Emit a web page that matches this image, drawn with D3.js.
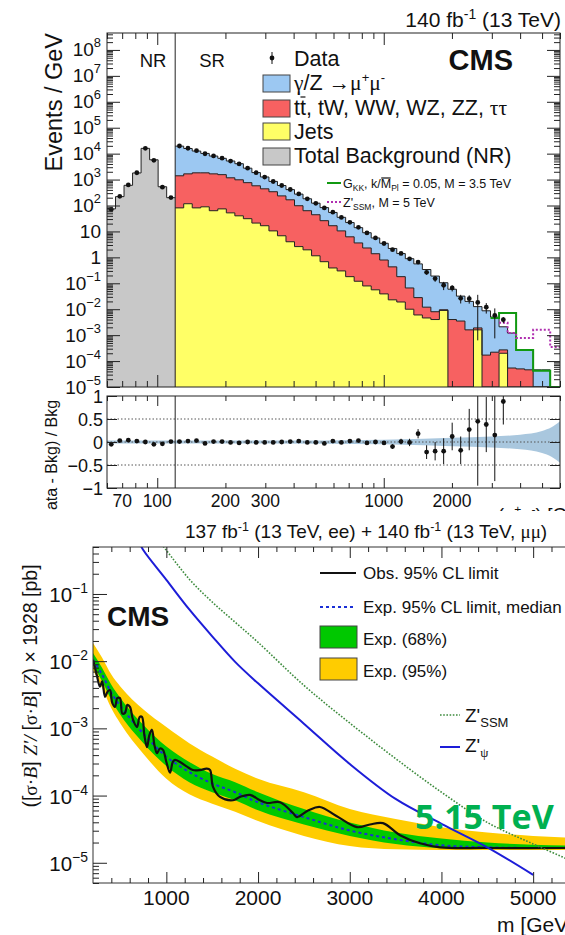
<!DOCTYPE html>
<html>
<head>
<meta charset="utf-8">
<style>
  body { margin: 0; background: #fff; }
  text { font-family: "Liberation Sans", Arial, Helvetica, sans-serif; fill: #111; }
</style>
</head>
<body>
<script src="https://d3js.org/d3.v7.min.js"></script>
<script>
// ---------- top figure: dimuon mass spectrum (events / GeV) ----------
// NR region, 8 log bins 60-120 GeV
const nrBkg   = [74, 220, 600, 1800, 16000, 5800, 530, 200];
const nrRatio = [-0.05, 0.03, 0.04, 0.02, 0.0, -0.05, -0.04, 0.01];
const nrRatioErr = [0.01, 0.01, 0.01, 0.01, 0.01, 0.01, 0.01, 0.01];

// SR region, bins 8..52 (stack tops)
const srTotal = [19500, 15800, 12600, 10200, 8100, 6600, 5200, 4100, 2750, 1860, 1260, 850, 590, 410, 275, 182, 123, 83, 54, 35,
  22, 14, 8.9, 5.6, 3.5, 2.2, 1.4, 0.89, 0.56, 0.34, 0.19, 0.105, 0.059, 0.032, 0.020, 0.0126, 0.0087, 0.0050, 0.0021, 0.0012,
  2.7e-4, 2.7e-4, 4.6e-5, 4.6e-5, 0];
const srNonDY = [1400, 1660, 1820, 1820, 1660, 1550, 1170, 980, 760, 575, 440, 340, 235, 166, 98, 63, 44, 26, 16.6, 10.5,
  6.2, 3.6, 2.3, 1.38, 0.79, 0.43, 0.18, 0.066, 0.028, 0.012, 0.008, 0.0095, 0.004, 0.0035, 0.0016, 0.0019, 1.7e-4, 2.2e-4, 2.7e-4, 5.4e-5,
  5e-5, 4.6e-5, 0, 0, 0];
const srJets = [81, 117, 81, 89, 63, 74, 52, 40, 31, 21, 16.6, 10.5, 6.8, 4.0, 2.6, 1.95, 1.15, 0.68, 0.39, 0.30,
  0.18, 0.12, 0.079, 0.056, 0.039, 0.023, 0.019, 0.010, 0.006, 0.0046, 0.004, 0.009, 0, 0, 0, 0.0016, 0, 0, 2e-4, 0,
  0, 0, 0, 0, 0];
// data / bkg - 1, bins 8..46
const srRatio = [0.01, 0.02, 0.03, -0.03, 0.01, 0.01, -0.01, -0.02, 0.0, -0.01, -0.01, -0.01, 0.0, 0.01, 0.02, -0.01, -0.01, -0.03, 0.02, -0.01,
  0.02, 0.03, -0.02, 0.0, -0.02, -0.1, 0.01, -0.01, 0.18, -0.22, -0.2, -0.2, 0.12, -0.18, 0.27, 0.45, 0.38, 0.15, 0.88];
const srRatioErr = [0.01, 0.01, 0.01, 0.01, 0.01, 0.01, 0.01, 0.01, 0.01, 0.01, 0.01, 0.01, 0.01, 0.01, 0.01, 0.01, 0.01, 0.01, 0.01, 0.01,
  0.01, 0.01, 0.02, 0.03, 0.04, 0.05, 0.06, 0.08, 0.1, 0.15, 0.2, 0.28, 0.3, 0.3, 0.45, 1.4, 0.6, 1.0, 0.5];
// signals, signal + bkg
const gkkSig  = [0.0046, 0.0072, 0.0072, 2.7e-4, 2.7e-4, 4.2e-5, 4.2e-5, 0];   // bins 45..52
const zssmSig = [0.003, 0.0012, 7.8e-4, 7.8e-4, 0.0016, 0.0016, 3.5e-4];      // bins 46..52
// ratio-panel bkg uncertainty
const bandMass = [60, 300, 1000, 1500, 2000, 3000, 4000, 5000, 5500, 6000];
const bandHalf = [0.03, 0.03, 0.05, 0.07, 0.09, 0.12, 0.16, 0.24, 0.32, 0.45];
const massTicks = [70, 100, 200, 300, 1000, 2000];
const ratioTicks = [-1, -0.5, 0, 0.5, 1];

// ---------- bottom figure: limits (log10 of pb) ----------
const limMass = [200, 300, 400, 500, 750, 1000, 1250, 1500, 1750, 2000, 2500, 3000, 3500, 4000, 4500, 5000, 5500];
const exp95Hi = [-1.73, -1.95, -2.2, -2.38, -2.72, -2.98, -3.22, -3.42, -3.6, -3.75, -3.95, -4.2, -4.35, -4.47, -4.55, -4.6, -4.63];
const exp68Hi = [-1.88, -2.1, -2.35, -2.55, -2.95, -3.27, -3.5, -3.68, -3.8, -3.95, -4.2, -4.4, -4.55, -4.64, -4.7, -4.73, -4.75];
const expMed  = [-1.98, -2.2, -2.47, -2.67, -3.08, -3.42, -3.65, -3.82, -3.95, -4.1, -4.32, -4.52, -4.65, -4.74, -4.77, -4.78, -4.78];
const exp68Lo = [-2.06, -2.3, -2.58, -2.8, -3.22, -3.56, -3.8, -3.95, -4.07, -4.22, -4.43, -4.6, -4.72, -4.78, -4.79, -4.79, -4.79];
const exp95Lo = [-2.13, -2.4, -2.7, -2.93, -3.38, -3.75, -3.98, -4.12, -4.24, -4.38, -4.6, -4.75, -4.8, -4.81, -4.81, -4.81, -4.81];
const obsMass = [200, 240, 276, 300, 331, 360, 385, 410, 440, 465, 494, 520, 549, 575, 603, 636, 680, 710, 734, 760,
  789, 815, 843, 870, 898, 930, 963, 1000, 1040, 1070, 1094, 1149, 1225, 1290, 1367, 1440, 1476, 1509, 1585, 1727,
  1803, 1912, 2021, 2098, 2239, 2381, 2425, 2550, 2675, 2850, 3079, 3220, 3362, 3548, 3766, 3985, 4500, 5500];
const obsLim = [-1.98, -2.2, -2.38, -2.3, -2.53, -2.45, -2.43, -2.62, -2.68, -2.55, -2.55, -2.78, -2.77, -2.65, -2.68, -2.87, -2.98, -2.83, -2.83, -3.1,
  -3.28, -3.1, -3.02, -3.25, -3.37, -3.3, -3.32, -3.5, -3.66, -3.5, -3.47, -3.5, -3.57, -3.62, -3.62, -3.6, -3.62, -3.87, -4.02, -4.07,
  -4.02, -3.99, -4.07, -4.11, -4.1, -4.26, -4.32, -4.22, -4.17, -4.3, -4.47, -4.43, -4.41, -4.59, -4.71, -4.77, -4.78, -4.78];
const ssmMass = [900, 1000, 1250, 1500, 1750, 2000, 2500, 3000, 3500, 4000, 4500, 5000, 5500];
const ssmXs   = [-0.18, -0.35, -0.78, -1.12, -1.42, -1.72, -2.36, -2.92, -3.45, -3.95, -4.4, -4.72, -5.02];
const psiMass = [700, 750, 1000, 1250, 1500, 1750, 2000, 2500, 3000, 3500, 4000, 4500, 5000];
const psiXs   = [-0.22, -0.35, -0.79, -1.23, -1.63, -2.01, -2.33, -2.93, -3.53, -4.05, -4.42, -4.77, -5.18];
const limXTicks = [1000, 2000, 3000, 4000, 5000];

const serif = '"Liberation Serif", "Times New Roman", serif';
const svg = d3.select('body').append('svg').attr('width', 565).attr('height', 935);

// generic inward tick helper
function ticks(axisFn, scale, vals, len, tx, ty) {
  svg.append('g').attr('transform', `translate(${tx},${ty})`)
    .call(axisFn(scale).tickValues(vals).tickSize(-len).tickFormat(''))
    .call(a => a.select('.domain').remove())
    .selectAll('line').attr('stroke', '#222').attr('stroke-width', 1);
}
function logVals(lo, hi, major) {
  const out = [];
  for (let e = Math.floor(Math.log10(lo)); e <= Math.ceil(Math.log10(hi)); e++) {
    for (let k = 1; k < 10; k++) {
      const v = k * Math.pow(10, e);
      if (v >= lo * 0.999 && v <= hi * 1.001 && (major ? k === 1 : k !== 1)) out.push(v);
    }
  }
  return out;
}
function powLabel(sel, e) {
  if (e === 0) { sel.text('1'); return; }
  if (e === 1) { sel.text('10'); return; }
  sel.append('tspan').text('10');
  sel.append('tspan').attr('dy', -9).attr('font-size', '0.68em').text(e < 0 ? '\u2212' + (-e) : e);
}
// bar over one character of a text element
function overbar(t, idx) {
  const b = t.node().getExtentOfChar(idx);
  svg.append('line').attr('x1', b.x + 0.5).attr('x2', b.x + b.width - 0.5)
    .attr('y1', b.y + 1).attr('y2', b.y + 1).attr('stroke', '#111').attr('stroke-width', 1.2);
}

// ================= TOP FIGURE =================
const X0 = 107, X1 = 560, YT = 33, YB = 387, RT = 396, RB = 488;
const x = d3.scaleLog().domain([60, 6000]).range([X0, X1]);
const y = d3.scaleLog().domain([1e-5, 4.5e8]).range([YB, YT]);
const yr = d3.scaleLinear().domain([-1, 1]).range([RB, RT]);
const edges = d3.range(54).map(i => 60 * Math.pow(2, i / 8));
const center = i => Math.sqrt(edges[i] * edges[i + 1]);
const ly = v => y(Math.max(v, 1e-5));

function stepPts(vals, first, lastEdge) {
  const pts = vals.map((v, i) => [edges[first + i], v]);
  pts.push([lastEdge || edges[first + vals.length], vals[vals.length - 1]]);
  return pts;
}
const stepArea = d3.area().curve(d3.curveStepAfter).x(d => x(d[0])).y0(YB).y1(d => ly(d[1]));
const stepLine = d3.line().curve(d3.curveStepAfter).x(d => x(d[0])).y(d => ly(d[1]));

svg.append('defs').append('clipPath').attr('id', 'topClip')
  .append('rect').attr('x', X0).attr('y', YT).attr('width', X1 - X0).attr('height', YB - YT);
svg.select('defs').append('clipPath').attr('id', 'ratioClip')
  .append('rect').attr('x', X0).attr('y', RT).attr('width', X1 - X0).attr('height', RB - RT);

const gh = svg.append('g').attr('clip-path', 'url(#topClip)');
const hists = [
  {vals: nrBkg, first: 0, fill: '#c8c8c8', end: null},
  {vals: srTotal, first: 8, fill: '#9cc8f2', end: 6000},
  {vals: srNonDY, first: 8, fill: '#f76161', end: 6000},
  {vals: srJets, first: 8, fill: '#ffff66', end: 6000}
];
hists.forEach(h => {
  const pts = stepPts(h.vals, h.first, h.end);
  gh.append('path').attr('d', stepArea(pts)).attr('fill', h.fill);
});
hists.forEach(h => {
  const pts = stepPts(h.vals, h.first, h.end);
  gh.append('path').attr('d', stepLine(pts)).attr('fill', 'none').attr('stroke', '#222').attr('stroke-width', 1);
});
gh.append('path').attr('d', stepLine(stepPts(gkkSig, 45, 6000)))
  .attr('fill', 'none').attr('stroke', '#119911').attr('stroke-width', 2);
gh.append('path').attr('d', stepLine(stepPts(zssmSig, 46, 6000)))
  .attr('fill', 'none').attr('stroke', '#b02fb0').attr('stroke-width', 2).attr('stroke-dasharray', '2,2');

// data points
const pts = [];
nrBkg.forEach((b, i) => pts.push({m: center(i), b, r: nrRatio[i], e: nrRatioErr[i]}));
srRatio.forEach((r, k) => pts.push({m: center(8 + k), b: srTotal[k], r, e: srRatioErr[k]}));
pts.forEach(p => {
  const v = p.b * (1 + p.r), err = p.e * p.b;
  gh.append('line').attr('x1', x(p.m)).attr('x2', x(p.m))
    .attr('y1', ly(v - err)).attr('y2', ly(v + err)).attr('stroke', '#111').attr('stroke-width', 1);
  gh.append('circle').attr('cx', x(p.m)).attr('cy', ly(v)).attr('r', 2.4).attr('fill', '#111');
});
svg.append('line').attr('x1', x(120)).attr('x2', x(120)).attr('y1', YT).attr('y2', YB).attr('stroke', '#222');
svg.append('rect').attr('x', X0).attr('y', YT).attr('width', X1 - X0).attr('height', YB - YT)
  .attr('fill', 'none').attr('stroke', '#222');

// top axes ticks
const xMaj = [100, 1000], xMin = logVals(60, 6000, false);
ticks(d3.axisBottom, x, xMaj, 12, 0, YB); ticks(d3.axisBottom, x, xMin, 6, 0, YB);
ticks(d3.axisTop, x, xMaj, 12, 0, YT); ticks(d3.axisTop, x, xMin, 6, 0, YT);
const yMaj = logVals(1e-5, 4.5e8, true), yMin = logVals(1e-5, 4.5e8, false);
ticks(d3.axisLeft, y, yMaj, 13, X0, 0); ticks(d3.axisLeft, y, yMin, 6, X0, 0);
ticks(d3.axisRight, y, yMaj, 13, X1, 0); ticks(d3.axisRight, y, yMin, 6, X1, 0);
yMaj.forEach(v => {
  const e = Math.round(Math.log10(v));
  const t = svg.append('text').attr('x', 101).attr('y', y(v) + 6.5).attr('text-anchor', 'end').attr('font-size', 19);
  powLabel(t, e);
});
svg.append('text').attr('transform', `translate(62,${YT}) rotate(-90)`).attr('text-anchor', 'end')
  .attr('font-size', 23.5).text('Events / GeV');
svg.append('text').attr('x', 561).attr('y', 27).attr('text-anchor', 'end').attr('font-size', 21)
  .call(t => { t.append('tspan').text('140 fb'); t.append('tspan').attr('dy', -8).attr('font-size', 14).text('-1');
    t.append('tspan').attr('dy', 8).text(' (13 TeV)'); });
svg.append('text').attr('x', 153).attr('y', 67).attr('text-anchor', 'middle').attr('font-size', 18.5).text('NR');
svg.append('text').attr('x', 212).attr('y', 67).attr('text-anchor', 'middle').attr('font-size', 18.5).text('SR');
svg.append('text').attr('x', 513).attr('y', 70).attr('text-anchor', 'end').attr('font-size', 29)
  .attr('font-weight', 'bold').text('CMS');

// legend
svg.append('line').attr('x1', 272).attr('x2', 272).attr('y1', 52).attr('y2', 64).attr('stroke', '#111');
svg.append('circle').attr('cx', 272).attr('cy', 58).attr('r', 2.4).attr('fill', '#111');
svg.append('text').attr('x', 294).attr('y', 66).attr('font-size', 21.5).text('Data');
const legRows = [
  {fill: '#9cc8f2', y: 75}, {fill: '#f76161', y: 100}, {fill: '#ffff66', y: 123}, {fill: '#c8c8c8', y: 148}
];
legRows.forEach(r => svg.append('rect').attr('x', 263).attr('y', r.y).attr('width', 27).attr('height', 17)
  .attr('fill', r.fill).attr('stroke', '#444').attr('stroke-width', 1));
svg.append('text').attr('x', 294).attr('y', 90).attr('font-size', 21.5).call(t => {
  t.append('tspan').attr('font-family', serif).text('\u03b3');
  t.append('tspan').text('/Z ');
  t.append('tspan').attr('font-family', serif).text('\u2192\u03bc');
  t.append('tspan').attr('dy', -8).attr('font-size', 13).text('+');
  t.append('tspan').attr('dy', 8).attr('font-family', serif).text('\u03bc');
  t.append('tspan').attr('dy', -8).attr('font-size', 13).text('-');
});
const ttText = svg.append('text').attr('x', 294).attr('y', 115).attr('font-size', 21.5).call(t => {
  t.append('tspan').text('tt, tW, WW, WZ, ZZ, ');
  t.append('tspan').attr('font-family', serif).text('\u03c4\u03c4');
});
overbar(ttText, 1);
svg.append('text').attr('x', 294).attr('y', 139).attr('font-size', 21.5).text('Jets');
svg.append('text').attr('x', 294).attr('y', 163).attr('font-size', 21.5).text('Total Background (NR)');
svg.append('line').attr('x1', 327).attr('x2', 341).attr('y1', 183).attr('y2', 183).attr('stroke', '#119911').attr('stroke-width', 2);
const gkkText = svg.append('text').attr('x', 343).attr('y', 188).attr('font-size', 12.5).call(t => {
  t.append('tspan').text('G');
  t.append('tspan').attr('dy', 3).attr('font-size', 8.5).text('KK');
  t.append('tspan').attr('dy', -3).text(', k/M');
  t.append('tspan').attr('dy', 3).attr('font-size', 8.5).text('Pl');
  t.append('tspan').attr('dy', -3).text(' = 0.05, M = 3.5 TeV');
});
overbar(gkkText, 7);
svg.append('line').attr('x1', 327).attr('x2', 341).attr('y1', 202).attr('y2', 202).attr('stroke', '#b02fb0')
  .attr('stroke-width', 2).attr('stroke-dasharray', '2,2');
svg.append('text').attr('x', 343).attr('y', 207).attr('font-size', 12.5).call(t => {
  t.append('tspan').text("Z'");
  t.append('tspan').attr('dy', 3).attr('font-size', 8.5).text('SSM');
  t.append('tspan').attr('dy', -3).text(', M = 5 TeV');
});

// ratio panel
const band = d3.area().curve(d3.curveMonotoneX).x((d, i) => x(bandMass[i]))
  .y0((d, i) => yr(-bandHalf[i])).y1((d, i) => yr(bandHalf[i]));
const gr = svg.append('g').attr('clip-path', 'url(#ratioClip)');
gr.append('path').attr('d', band(bandMass)).attr('fill', '#a9c7de');
[-0.5, 0, 0.5].forEach(v => gr.append('line').attr('x1', X0).attr('x2', X1).attr('y1', yr(v)).attr('y2', yr(v))
  .attr('stroke', '#555').attr('stroke-width', 1).attr('stroke-dasharray', '1.5,2'));
pts.forEach(p => {
  gr.append('line').attr('x1', x(p.m)).attr('x2', x(p.m)).attr('y1', yr(p.r - p.e)).attr('y2', yr(p.r + p.e))
    .attr('stroke', '#111').attr('stroke-width', 1);
  gr.append('circle').attr('cx', x(p.m)).attr('cy', yr(p.r)).attr('r', 2.4).attr('fill', '#111');
});
svg.append('line').attr('x1', x(120)).attr('x2', x(120)).attr('y1', RT).attr('y2', RB).attr('stroke', '#222');
svg.append('rect').attr('x', X0).attr('y', RT).attr('width', X1 - X0).attr('height', RB - RT)
  .attr('fill', 'none').attr('stroke', '#222');
ticks(d3.axisBottom, x, xMaj, 10, 0, RB); ticks(d3.axisBottom, x, xMin, 5, 0, RB);
ticks(d3.axisTop, x, xMaj, 10, 0, RT); ticks(d3.axisTop, x, xMin, 5, 0, RT);
ticks(d3.axisLeft, yr, ratioTicks, 10, X0, 0); ticks(d3.axisRight, yr, ratioTicks, 10, X1, 0);
ratioTicks.forEach(v => svg.append('text').attr('x', 103).attr('y', yr(v) + 6.5).attr('text-anchor', 'end')
  .attr('font-size', 18).text(v < 0 ? '\u2212' + (-v) : v));
massTicks.forEach(v => svg.append('text').attr('x', x(v)).attr('y', 507).attr('text-anchor', 'middle')
  .attr('font-size', 17.5).text(v));
svg.append('text').attr('transform', 'translate(57,527) rotate(-90)').attr('text-anchor', 'start')
  .attr('font-size', 16).text('(Data - Bkg) / Bkg');
svg.append('text').attr('x', 482).attr('y', 521).attr('font-size', 19).call(t => {
  t.append('tspan').text('m(');
  t.append('tspan').attr('font-family', serif).text('\u03bc');
  t.append('tspan').attr('dy', -7).attr('font-size', 12).text('+');
  t.append('tspan').attr('dy', 7).attr('font-family', serif).text('\u03bc');
  t.append('tspan').attr('dy', -7).attr('font-size', 12).text('-');
  t.append('tspan').attr('dy', 7).text(') [GeV]');
});

// white cut between the two figures
svg.append('rect').attr('x', 0).attr('y', 511).attr('width', 565).attr('height', 424).attr('fill', '#fff');

// ================= BOTTOM FIGURE =================
const BX0 = 93, BX1 = 579, BT = 547, BB = 883;
const xb = d3.scaleLinear().domain([200, 5500]).range([BX0, BX1]);
const yb = d3.scaleLog().domain([5e-6, 0.5]).range([BB, BT]);
svg.select('defs').append('clipPath').attr('id', 'limClip')
  .append('rect').attr('x', BX0).attr('y', BT).attr('width', BX1 - BX0).attr('height', BB - BT);
const gl = svg.append('g').attr('clip-path', 'url(#limClip)');
const p10 = v => Math.pow(10, v);
const bandArea = (hi, lo) => d3.area().curve(d3.curveMonotoneX)
  .x((d, i) => xb(limMass[i])).y0((d, i) => yb(p10(lo[i]))).y1((d, i) => yb(p10(hi[i])));
gl.append('path').attr('d', bandArea(exp95Hi, exp95Lo)(limMass)).attr('fill', '#ffcc00');
gl.append('path').attr('d', bandArea(exp68Hi, exp68Lo)(limMass)).attr('fill', '#00c800');
const curve = (ms) => d3.line().curve(d3.curveCatmullRom.alpha(0.5)).x((d, i) => xb(ms[i])).y(d => yb(p10(d)));
gl.append('path').attr('d', curve(limMass)(expMed)).attr('fill', 'none').attr('stroke', '#1a2fd6')
  .attr('stroke-width', 2).attr('stroke-dasharray', '3,3');
gl.append('path').attr('d', curve(obsMass)(obsLim)).attr('fill', 'none').attr('stroke', '#111').attr('stroke-width', 2.2);
gl.append('path').attr('d', curve(ssmMass)(ssmXs)).attr('fill', 'none').attr('stroke', '#3d8b3d')
  .attr('stroke-width', 1.6).attr('stroke-dasharray', '1.6,1.6');
gl.append('path').attr('d', curve(psiMass)(psiXs)).attr('fill', 'none').attr('stroke', '#1d1dd8').attr('stroke-width', 2);
svg.append('rect').attr('x', BX0).attr('y', BT).attr('width', BX1 - BX0).attr('height', BB - BT)
  .attr('fill', 'none').attr('stroke', '#333');

const bxMin = d3.range(400, 5500, 200).filter(v => v % 1000 !== 0);
ticks(d3.axisBottom, xb, limXTicks, 11, 0, BB); ticks(d3.axisBottom, xb, bxMin, 5, 0, BB);
ticks(d3.axisTop, xb, limXTicks, 11, 0, BT); ticks(d3.axisTop, xb, bxMin, 5, 0, BT);
const byMaj = logVals(5e-6, 0.5, true), byMin = logVals(5e-6, 0.5, false);
ticks(d3.axisLeft, yb, byMaj, 14, BX0, 0); ticks(d3.axisLeft, yb, byMin, 6, BX0, 0);
byMaj.forEach(v => {
  const t = svg.append('text').attr('x', 88).attr('y', yb(v) + 8).attr('text-anchor', 'end').attr('font-size', 20.5);
  powLabel(t, Math.round(Math.log10(v)));
});
limXTicks.forEach(v => svg.append('text').attr('x', xb(v)).attr('y', 905).attr('text-anchor', 'middle')
  .attr('font-size', 21).text(v));
svg.append('text').attr('x', 497).attr('y', 932).attr('font-size', 21).text('m [GeV]');
svg.append('text').attr('transform', 'translate(37,686) rotate(-90)').attr('text-anchor', 'middle')
  .attr('font-size', 19.5).call(t => {
    t.append('tspan').text('([');
    t.append('tspan').attr('font-family', serif).text('\u03c3\u00b7');
    t.append('tspan').attr('font-family', serif).attr('font-style', 'italic').text('B');
    t.append('tspan').text('] ');
    t.append('tspan').attr('font-family', serif).attr('font-style', 'italic').text("Z'/ ");
    t.append('tspan').text('[');
    t.append('tspan').attr('font-family', serif).text('\u03c3\u00b7');
    t.append('tspan').attr('font-family', serif).attr('font-style', 'italic').text('B');
    t.append('tspan').text('] ');
    t.append('tspan').attr('font-family', serif).attr('font-style', 'italic').text('Z');
    t.append('tspan').text(') \u00d7 1928 [pb]');
  });
svg.append('text').attr('x', 185).attr('y', 538).attr('font-size', 19).call(t => {
  t.append('tspan').text('137 fb');
  t.append('tspan').attr('dy', -7).attr('font-size', 12.5).text('-1');
  t.append('tspan').attr('dy', 7).text(' (13 TeV, ee) + 140 fb');
  t.append('tspan').attr('dy', -7).attr('font-size', 12.5).text('-1');
  t.append('tspan').attr('dy', 7).text(' (13 TeV, ');
  t.append('tspan').attr('font-family', serif).text('\u03bc\u03bc');
  t.append('tspan').text(')');
});
svg.append('text').attr('x', 107).attr('y', 626).attr('font-size', 28).attr('font-weight', 'bold').text('CMS');

// bottom legend
svg.append('line').attr('x1', 320).attr('x2', 356).attr('y1', 573).attr('y2', 573).attr('stroke', '#111').attr('stroke-width', 2.2);
svg.append('text').attr('x', 363).attr('y', 579).attr('font-size', 17).text('Obs. 95% CL limit');
svg.append('line').attr('x1', 320).attr('x2', 356).attr('y1', 607).attr('y2', 607).attr('stroke', '#1a2fd6')
  .attr('stroke-width', 2).attr('stroke-dasharray', '3,3');
svg.append('text').attr('x', 363).attr('y', 613).attr('font-size', 17).text('Exp. 95% CL limit, median');
svg.append('rect').attr('x', 320).attr('y', 626).attr('width', 37).attr('height', 22).attr('fill', '#00c800').attr('stroke', '#444');
svg.append('text').attr('x', 363).attr('y', 645).attr('font-size', 17).text('Exp. (68%)');
svg.append('rect').attr('x', 320).attr('y', 658).attr('width', 37).attr('height', 22).attr('fill', '#ffcc00').attr('stroke', '#444');
svg.append('text').attr('x', 363).attr('y', 677).attr('font-size', 17).text('Exp. (95%)');
svg.append('line').attr('x1', 440).attr('x2', 460).attr('y1', 715).attr('y2', 715).attr('stroke', '#3d8b3d')
  .attr('stroke-width', 1.6).attr('stroke-dasharray', '1.6,1.6');
svg.append('text').attr('x', 465).attr('y', 722).attr('font-size', 19).call(t => {
  t.append('tspan').text("Z'");
  t.append('tspan').attr('dy', 5).attr('font-size', 13).text('SSM');
});
svg.append('line').attr('x1', 440).attr('x2', 460).attr('y1', 747).attr('y2', 747).attr('stroke', '#1d1dd8').attr('stroke-width', 2);
svg.append('text').attr('x', 465).attr('y', 752).attr('font-size', 19).call(t => {
  t.append('tspan').text("Z'");
  t.append('tspan').attr('dy', 5).attr('font-size', 13).attr('font-family', serif).text('\u03c8');
});

svg.append('text').attr('x', 415).attr('y', 829).attr('font-size', 34).attr('font-weight', 'bold')
  .style('font-family', '"Open Sans", sans-serif').style('fill', '#00b050').text('5.15 TeV');
</script>
</body>
</html>
